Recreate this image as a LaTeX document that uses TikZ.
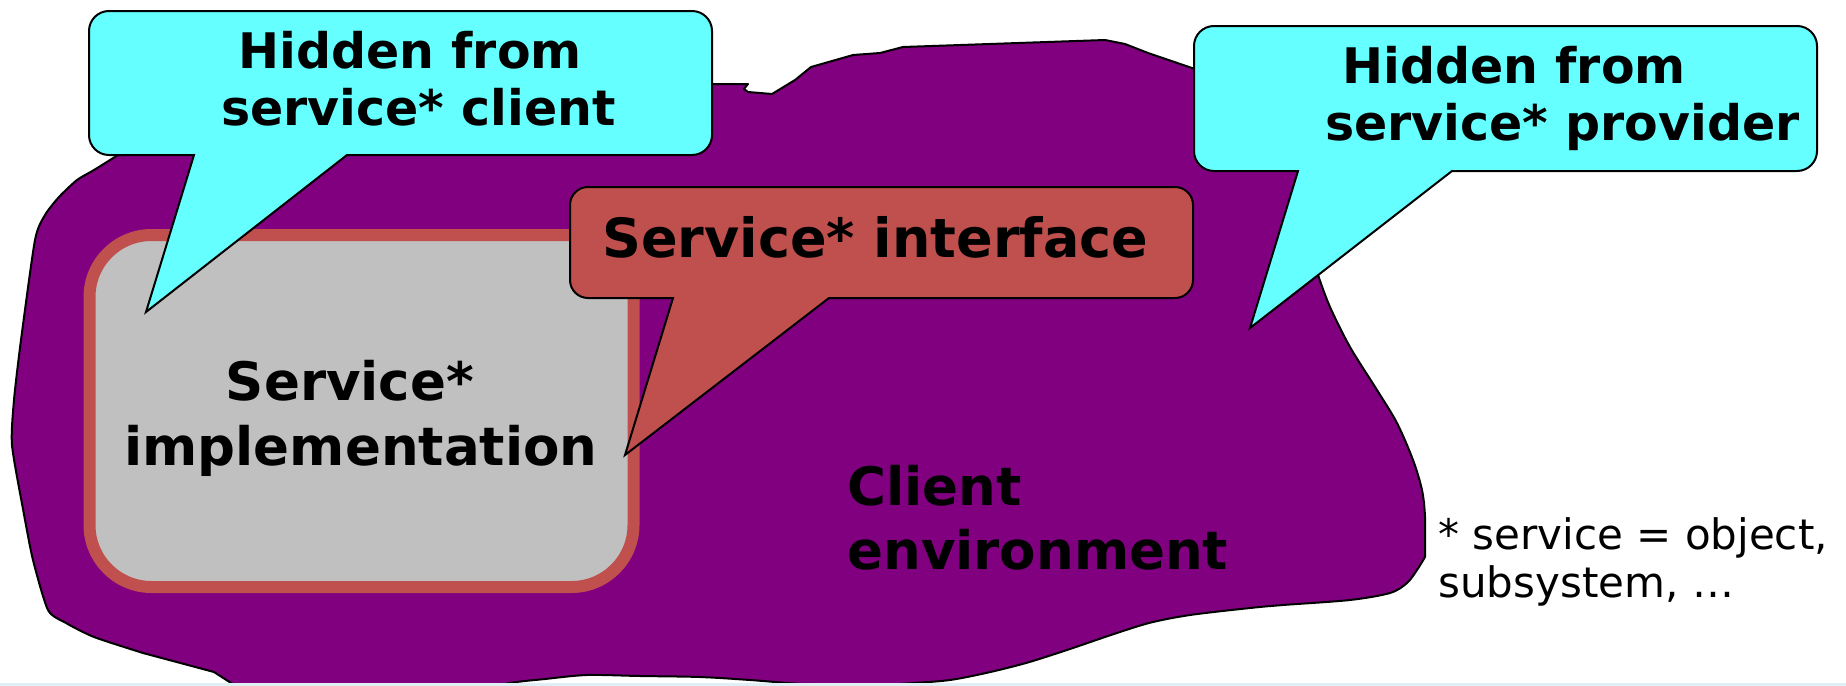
\documentclass[tikz,border=0pt]{standalone}
\usepackage{fontspec}
\setmainfont{DejaVu Sans}
\definecolor{hidecyan}{HTML}{66FFFF}
\definecolor{envpurple}{HTML}{800080}
\definecolor{ifred}{HTML}{C0504D}
\definecolor{implgray}{HTML}{C0C0C0}
\definecolor{stripblue}{HTML}{DFF0F5}
\tikzset{
  blob/.style={fill=envpurple, draw=black, line width=1pt, line join=round},
  callcyan/.style={fill=hidecyan, draw=black, line width=1pt},
  callred/.style={fill=ifred, draw=black, line width=1pt},
  implbox/.style={fill=implgray, draw=ifred, line width=6pt, rounded corners=31pt, inner sep=0pt, minimum width=272pt, minimum height=176pt},
  cytxt/.style={inner sep=0pt, font=\fontsize{24.5}{29}\selectfont\bfseries},
  rdtxt/.style={inner sep=0pt, font=\fontsize{27}{32}\selectfont\bfseries},
  bigtxt/.style={inner sep=0pt, font=\fontsize{26.5}{32}\selectfont\bfseries},
  smtxt/.style={inner sep=0pt, font=\fontsize{21}{24}\selectfont},
}
\begin{document}
\begin{tikzpicture}[x=0.5pt,y=-0.5pt]
\clip (0,0) rectangle (1846,685);
% client environment blob
\draw[blob] (118,155) -- (400,100) -- (713,84) -- (748,84) -- (744,89) -- (748,92) -- (772,94) -- (795,80) -- (811,67) -- (853,55) -- (880,53) -- (903,47) -- (1105,40) -- (1125,44) -- (1148,53) -- (1192,68) -- (1340,120) -- (1320,200) -- (1310,250)
  -- plot[smooth, tension=0.5] coordinates {(1310,250) (1318,275) (1330,307) (1350,347) (1377,390) (1397,423) (1413,460) (1422,490) (1425,517) (1425,557)}
  -- plot[smooth, tension=0.5] coordinates {(1425,557) (1417,570) (1407,583) (1390,593) (1350,600) (1283,605) (1250,608) (1190,615) (1149,623) (1108,636) (1067,650) (1026,663) (986,673) (950,680) (914,683) (860,686) (802,684) (750,680) (700,677) (640,676) (587,675) (545,679) (510,683) (470,692)}
  -- (245,692) -- (214,672) -- (143,653)
  -- plot[smooth, tension=0.4] coordinates {(143,653) (94,637) (66,623) (48,610) (33,560) (23,509) (12,445) (14,400) (21,340) (35,240) (45,215) (59,197) (77,180) (94,170) (118,155)}
  -- cycle;
\fill[stripblue] (0,683) rectangle (1846,686);
% implementation box
\node[implbox] (impl) at (361.5,411) {};
\node[bigtxt, anchor=base] (sim1) at (350,400) {Service*};
\node[bigtxt, anchor=base] (sim2) at (361,465) {implementation};
% hidden from client
\draw[callcyan] (194,155) -- (146,312) -- (347,155) -- (692,155) arc[start angle=90,end angle=0,radius=20] -- (712,31) arc[start angle=0,end angle=-90,radius=20] -- (109,11) arc[start angle=-90,end angle=-180,radius=20] -- (89,135) arc[start angle=180,end angle=90,radius=20] -- cycle;
\node[cytxt, anchor=base west] (hc1) at (238,68) {Hidden from};
\node[cytxt, anchor=base west] (hc2) at (221,125) {service* client};
% hidden from provider
\draw[callcyan] (1298,171) -- (1250,328) -- (1452,171) -- (1797,171) arc[start angle=90,end angle=0,radius=20] -- (1817,46) arc[start angle=0,end angle=-90,radius=20] -- (1214,26) arc[start angle=-90,end angle=-180,radius=20] -- (1194,151) arc[start angle=180,end angle=90,radius=20] -- cycle;
\node[cytxt, anchor=base west] (hp1) at (1342,83) {Hidden from};
\node[cytxt, anchor=base west] (hp2) at (1325,140) {service* provider};
% interface
\draw[callred] (673,298) -- (625,455) -- (829,298) -- (1175,298) arc[start angle=90,end angle=0,radius=18] -- (1193,205) arc[start angle=0,end angle=-90,radius=18] -- (588,187) arc[start angle=-90,end angle=-180,radius=18] -- (570,280) arc[start angle=180,end angle=90,radius=18] -- cycle;
\node[rdtxt, anchor=base west] (si) at (602,257) {Service* interface};
% client environment label
\node[bigtxt, anchor=base west] (ce1) at (847,505) {Client};
\node[bigtxt, anchor=base west] (ce2) at (847,569) {environment};
% footnote
\node[smtxt, anchor=base west] (fn1) at (1438,549) {* service = object,};
\node[smtxt, anchor=base west] (fn2) at (1438,597) {subsystem, …};
\end{tikzpicture}
\end{document}
